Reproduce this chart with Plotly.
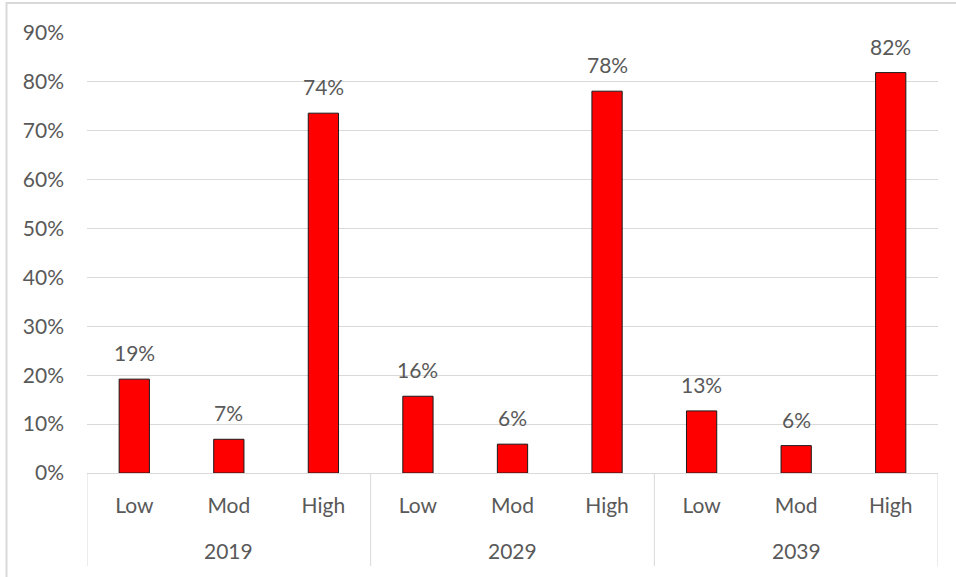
import plotly.graph_objects as go

# Share of each rating level, by projection year
years = ["2019", "2029", "2039"]
levels = ["Low", "Mod", "High"]
share_2019 = [0.192, 0.069, 0.736]
share_2029 = [0.157, 0.059, 0.781]
share_2039 = [0.127, 0.056, 0.819]
y_ticks = [0.0, 0.1, 0.2, 0.3, 0.4, 0.5, 0.6, 0.7, 0.8, 0.9]

values = share_2019 + share_2029 + share_2039
inner = [lv for _ in years for lv in levels]
pos = list(range(len(values)))
n = len(levels)

TEXT = "#595959"
GRID = "#d9d9d9"
FONT = "Lato"
FS = 21

W, H = 956, 577
ML, MR, MT, MB = 87, 18, 33, 104
pw = W - ML - MR
ph = H - MT - MB

fig = go.Figure(
    go.Bar(
        x=pos,
        y=values,
        marker=dict(color="#ff0000", line=dict(color="#1a1a1a", width=1)),
        hoverinfo="skip",
    )
)

# value labels above each bar
for i, v in zip(pos, values):
    fig.add_annotation(
        x=i, y=v, xref="x", yref="y",
        text=f"{v:.0%}", showarrow=False,
        yanchor="bottom", yshift=12,
        font=dict(family=FONT, size=FS, color=TEXT),
    )

# outer category level: year names and group dividers
for g, yr in enumerate(years):
    fig.add_annotation(
        x=g * n + (n - 1) / 2, y=-77 / ph, xref="x", yref="paper",
        text=yr, showarrow=False, yanchor="middle",
        font=dict(family=FONT, size=FS, color=TEXT),
    )
for g in range(len(years) + 1):
    fig.add_shape(
        type="line", xref="x", yref="paper",
        x0=g * n - 0.5, x1=g * n - 0.5, y0=0, y1=-93 / ph,
        line=dict(color=GRID, width=1),
    )

# light frame around the chart area
fig.add_shape(
    type="rect", xref="paper", yref="paper",
    x0=(6.5 - ML) / pw, x1=(W + 20 - ML) / pw,
    y0=-(MB + 20) / ph, y1=(H - MB - 3) / ph,
    line=dict(color=GRID, width=2), fillcolor="rgba(0,0,0,0)", layer="below",
)

fig.update_layout(
    width=W, height=H,
    margin=dict(l=ML, r=MR, t=MT, b=MB, pad=0),
    paper_bgcolor="white", plot_bgcolor="white",
    bargap=0.68,
    showlegend=False,
    font=dict(family=FONT, size=FS, color=TEXT),
)

fig.update_xaxes(
    range=[-0.5, len(values) - 0.5],
    tickvals=pos, ticktext=inner,
    showline=True, linecolor=GRID, linewidth=1,
    showgrid=False, zeroline=False,
    ticks="", ticklabelstandoff=14,
    tickfont=dict(family=FONT, size=FS, color=TEXT),
)

fig.update_yaxes(
    range=[0, 0.9],
    tickvals=y_ticks, tickformat=".0%",
    showgrid=True, gridcolor=GRID, gridwidth=1,
    zeroline=False, showline=False,
    ticks="", ticklabelstandoff=22,
    tickfont=dict(family=FONT, size=FS, color=TEXT),
)

fig.write_html("out.html")
